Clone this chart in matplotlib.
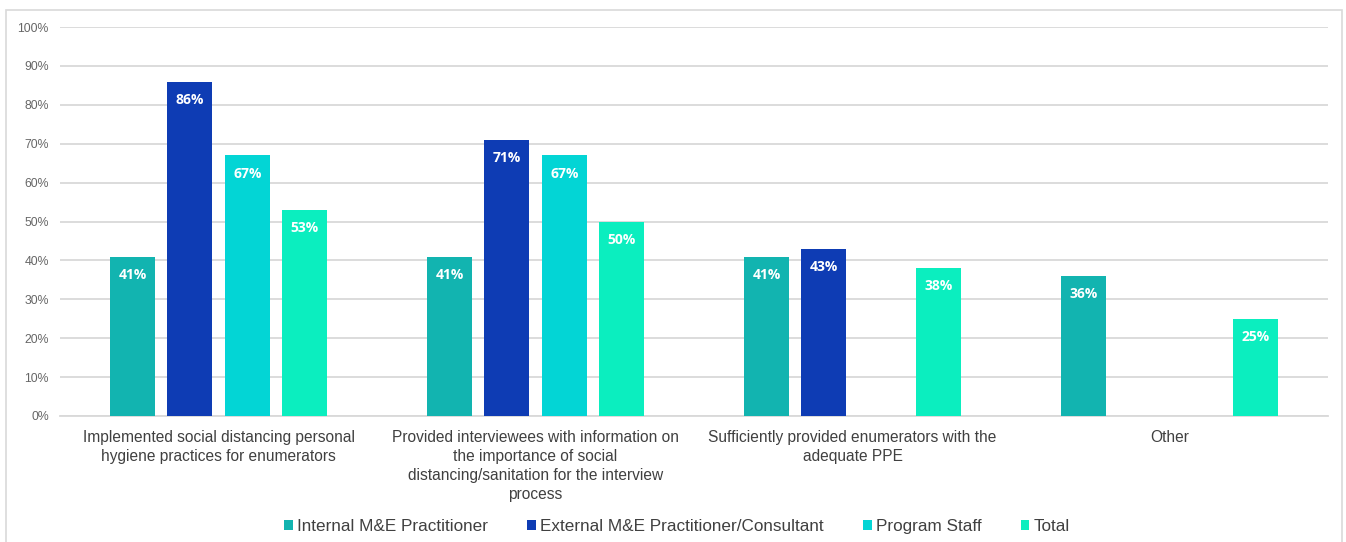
import numpy as np
import matplotlib.pyplot as plt
from matplotlib.patches import Rectangle

categories = [
    "Implemented social distancing personal\nhygiene practices for enumerators",
    "Provided interviewees with information on\nthe importance of social\ndistancing/sanitation for the interview\nprocess",
    "Sufficiently provided enumerators with the\nadequate PPE",
    "Other",
]
series_names = ["Internal M&E Practitioner", "External M&E Practitioner/Consultant",
                "Program Staff", "Total"]
internal = [41, 41, 41, 36]
external = [86, 71, 43, None]
program_staff = [67, 67, None, None]
total = [53, 50, 38, 25]
colors = ["#12b4b0", "#0e3cb4", "#03d5d5", "#0beebf"]

fig = plt.figure(figsize=(13.46, 5.42), dpi=100)
ax = fig.add_axes([0.0446, 0.2325, 0.942, 0.7175])

# light frame around the whole chart
fig.patches.append(Rectangle((0.0045, -0.05), 0.9925, 1.0315, transform=fig.transFigure,
                             fill=False, edgecolor="#d9d9d9", linewidth=1.2))

x = np.arange(len(categories))
pitch = 0.181
width = 0.142
for i, (vals, name, c) in enumerate(zip([internal, external, program_staff, total],
                                        series_names, colors)):
    xs = [xx + (i - 1.5) * pitch for xx, v in zip(x, vals) if v is not None]
    vs = [v for v in vals if v is not None]
    bars = ax.bar(xs, vs, width=width, color=c, label=name, zorder=3)
    for b, v in zip(bars, vs):
        ax.annotate(f"{v}%", (b.get_x() + b.get_width() / 2, v), xytext=(0, -8),
                    textcoords="offset points", ha="center", va="top",
                    color="white", fontsize=10, fontweight="bold", family="Open Sans")

ax.set_xlim(-0.5, 3.5)
ax.set_ylim(0, 100)
ax.set_yticks(range(0, 101, 10))
ax.set_yticklabels([f"{t}%" for t in range(0, 101, 10)], fontsize=8.8, color="#666666",
                   family="Liberation Sans")
ax.set_xticks(x)
ax.set_xticklabels(categories, fontsize=11.2, color="#404040", family="Liberation Sans",
                   linespacing=1.33)
ax.tick_params(axis="both", length=0)
ax.tick_params(axis="x", pad=10)
ax.tick_params(axis="y", pad=8)
ax.grid(axis="y", color="#d9d9d9", linewidth=1.3, zorder=0)
for s in ["top", "right", "left"]:
    ax.spines[s].set_visible(False)
ax.spines["bottom"].set_color("#d9d9d9")
ax.spines["bottom"].set_linewidth(1.3)

fig.legend(loc="center", bbox_to_anchor=(0.503, 0.029), ncol=4, frameon=False,
           prop={"family": "Liberation Sans", "size": 12.3}, handlelength=0.5,
           handleheight=0.5, handletextpad=0.25, columnspacing=2.3,
           labelcolor="#404040")

fig.savefig("out.png", dpi=100)
